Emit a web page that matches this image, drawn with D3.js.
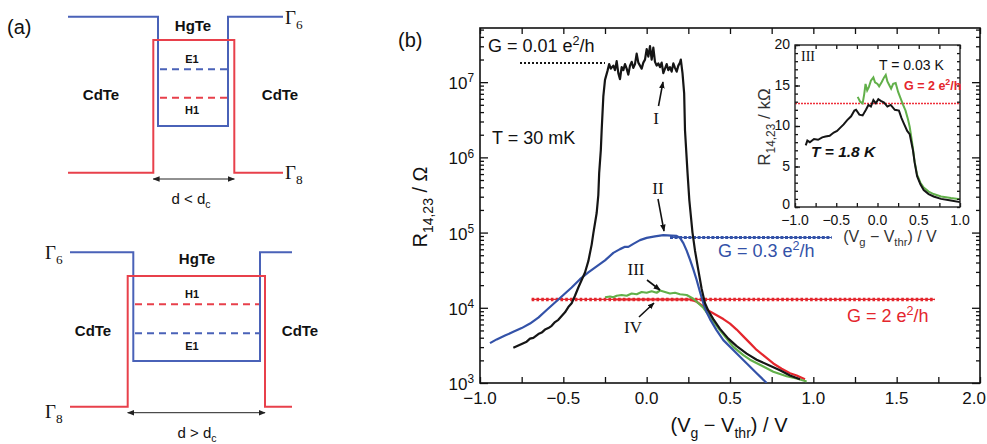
<!DOCTYPE html>
<html>
<head>
<meta charset="utf-8">
<script src="https://cdn.jsdelivr.net/npm/d3@7"></script>
<style>
  body { margin: 0; background: #fff; }
  svg { display: block; }
  text { font-family: "Liberation Sans", Arial, Helvetica, sans-serif; fill: #111; }
  .serif { font-family: "Liberation Serif", "Times New Roman", serif; }
</style>
</head>
<body>
<svg id="fig" width="987" height="444"></svg>
<script>
// ---------------- data ----------------
// main panel: gate voltage (V) and log10 of R14,23 (Ω)
const curveI = [
  [-0.80,3.47],[-0.77,3.50],[-0.74,3.53],[-0.72,3.55],[-0.70,3.59],[-0.68,3.60],[-0.65,3.65],[-0.63,3.67],
  [-0.61,3.71],[-0.59,3.73],[-0.57,3.76],[-0.55,3.81],[-0.53,3.84],[-0.51,3.89],[-0.49,3.94],[-0.47,4.01],
  [-0.45,4.06],[-0.43,4.16],[-0.41,4.27],[-0.39,4.37],[-0.37,4.47],[-0.35,4.62],[-0.33,4.84],[-0.32,4.99],
  [-0.30,5.26],[-0.29,5.50],[-0.285,5.79],[-0.275,6.10],[-0.27,6.36],[-0.26,6.81],[-0.25,7.03],
  [-0.235,7.15],[-0.225,7.24],[-0.215,7.18],[-0.20,7.22],[-0.19,7.16],[-0.18,7.28],[-0.17,7.12],[-0.16,7.04],
  [-0.15,7.20],[-0.14,7.16],[-0.13,7.24],[-0.12,7.18],[-0.11,7.10],[-0.10,7.22],[-0.09,7.27],[-0.08,7.19],
  [-0.07,7.24],[-0.06,7.38],[-0.05,7.26],[-0.04,7.22],[-0.03,7.18],[-0.02,7.26],[-0.01,7.30],[0.00,7.44],
  [0.01,7.34],[0.02,7.48],[0.03,7.30],[0.04,7.46],[0.05,7.27],[0.06,7.22],[0.07,7.25],[0.08,7.20],
  [0.09,7.26],[0.10,7.12],[0.11,7.18],[0.12,7.24],[0.13,7.16],[0.14,7.20],[0.15,7.14],[0.16,7.25],
  [0.17,7.19],[0.18,7.14],[0.19,7.22],[0.20,7.26],[0.205,7.30],[0.215,7.12],[0.225,6.85],[0.23,6.36],
  [0.245,5.80],[0.256,5.43],[0.275,5.00],[0.29,4.76],[0.31,4.50],[0.33,4.25],[0.35,4.06],[0.37,3.96],
  [0.40,3.85],[0.44,3.72],[0.49,3.59],[0.54,3.49],[0.60,3.39],[0.66,3.31],[0.73,3.24],[0.80,3.17],
  [0.86,3.10],[0.92,3.05]
];
const curveII = [
  [-0.94,3.53],[-0.90,3.58],[-0.85,3.63],[-0.80,3.68],[-0.75,3.73],[-0.70,3.79],[-0.65,3.87],[-0.60,3.97],
  [-0.55,4.07],[-0.50,4.17],[-0.45,4.27],[-0.40,4.38],[-0.35,4.47],[-0.30,4.55],[-0.25,4.63],[-0.20,4.73],
  [-0.16,4.78],[-0.13,4.81],[-0.11,4.81],[-0.08,4.85],[-0.04,4.90],[0.00,4.93],[0.05,4.95],[0.10,4.965],
  [0.15,4.96],[0.18,4.955],[0.20,4.93],[0.22,4.86],[0.24,4.76],[0.26,4.64],[0.28,4.51],[0.30,4.37],
  [0.32,4.21],[0.34,4.06],[0.36,3.94],[0.38,3.85],[0.42,3.70],[0.46,3.57],[0.51,3.46],[0.56,3.35],
  [0.61,3.24],[0.66,3.13],[0.72,3.00]
];
const curveIII = [
  [-0.25,4.14],[-0.22,4.15],[-0.20,4.14],[-0.18,4.16],[-0.15,4.17],[-0.12,4.16],[-0.09,4.19],[-0.06,4.18],
  [-0.03,4.21],[0.00,4.20],[0.03,4.22],[0.06,4.20],[0.08,4.23],[0.11,4.21],[0.14,4.19],[0.17,4.20],
  [0.20,4.18],[0.24,4.17],[0.28,4.12],[0.31,4.06],[0.34,4.00],[0.38,3.88],[0.44,3.70],[0.52,3.48],
  [0.58,3.37],[0.62,3.31],[0.70,3.22],[0.76,3.15],[0.84,3.09],[0.90,3.06],[0.96,3.02]
];
const curveIV = [
  [-0.20,4.11],[-0.10,4.11],[0.00,4.11],[0.10,4.11],[0.20,4.11],[0.26,4.11],[0.30,4.08],[0.34,4.02],
  [0.38,3.95],[0.42,3.90],[0.46,3.85],[0.50,3.79],[0.54,3.71],[0.58,3.62],[0.62,3.53],[0.66,3.44],
  [0.71,3.35],[0.76,3.26],[0.81,3.19],[0.86,3.13],[0.90,3.10],[0.95,3.05]
];

// quantised resistance levels (Ω) with their conductance labels
const levelG = ["0.01", "0.3", "2"];
const levelR = [1.8e7, 86000, 12900];
const levelFrom = [-0.76, 0.14, -0.69];
const levelTo = [-0.25, 1.11, 1.73];

// inset: gate voltage (V) and R14,23 (kΩ) for trace III
const insetHot = [
  [-0.87,7.6],[-0.85,8.2],[-0.82,8.0],[-0.77,8.4],[-0.72,8.3],[-0.67,8.6],[-0.63,8.7],[-0.58,8.8],
  [-0.53,9.2],[-0.49,9.4],[-0.45,9.8],[-0.41,10.2],[-0.37,10.7],[-0.32,11.2],[-0.28,11.9],[-0.26,12.0],
  [-0.22,11.4],[-0.18,11.3],[-0.14,12.0],[-0.11,12.6],[-0.08,12.4],[-0.05,13.2],[-0.02,12.8],[0.01,13.3],
  [0.04,13.1],[0.08,12.9],[0.12,12.4],[0.16,12.6],[0.21,12.0],[0.26,11.9],[0.29,11.0],[0.32,10.3],
  [0.36,9.4],[0.39,9.0],[0.41,8.0],[0.43,7.0],[0.45,5.5],[0.48,3.8],[0.52,2.8],[0.56,2.1],
  [0.62,1.6],[0.68,1.3],[0.77,1.0],[0.89,0.8],[1.00,0.6]
];
const insetCold = [
  [-0.24,13.6],[-0.21,13.0],[-0.18,12.8],[-0.16,14.0],[-0.145,15.2],[-0.125,14.4],[-0.105,14.8],[-0.08,15.6],
  [-0.05,16.0],[-0.03,15.4],[0.00,15.2],[0.02,14.9],[0.05,15.4],[0.08,16.0],[0.10,16.3],[0.12,15.5],
  [0.145,15.0],[0.165,14.6],[0.19,15.2],[0.22,15.3],[0.25,14.2],[0.28,13.4],[0.31,12.6],[0.34,11.9],
  [0.37,10.8],[0.39,9.9],[0.41,8.6],[0.43,7.2],[0.45,5.6],[0.48,4.0],[0.52,3.0],[0.56,2.4],
  [0.62,1.9],[0.68,1.6],[0.77,1.3],[0.89,1.1],[1.00,0.95]
];
const insetLevel = 12.9;

// tick labels
const xTicks = [-1.0, -0.5, 0.0, 0.5, 1.0, 1.5, 2.0];
const yDecades = [3, 4, 5, 6, 7];
const insetXTicks = [-1.0, -0.5, 0.0, 0.5, 1.0];
const insetYTicks = [0, 5, 10, 15, 20];

// ---------------- drawing ----------------
const svg = d3.select("#fig");
const W = 987;
const col = { black: "#151515", blue: "#3352a8", green: "#62b04a", red: "#e4262d",
              aBlue: "#4a62b8", aRed: "#e8404b" };
const fmt = v => (v < 0 ? "\u2212" : "") + Math.abs(v).toFixed(1);

// text with sub/superscripts
function rich(sel, x, y, parts, size, attrs = {}) {
  const t = sel.append("text").attr("x", x).attr("y", y).attr("font-size", size);
  Object.entries(attrs).forEach(([k, v]) => t.attr(k, v));
  let shift = 0;
  parts.forEach(p => {
    const part = typeof p === "string" ? { t: p } : p;
    const target = part.sup ? -size * 0.4 : part.sub ? size * 0.28 : 0;
    const s = t.append("tspan").text(part.t).attr("dy", target - shift);
    if (part.sup || part.sub) s.attr("font-size", size * 0.7);
    shift = target;
  });
  return t;
}

function arrowHead(id, color) {
  svg.select("defs").append("marker").attr("id", id)
    .attr("viewBox", "0 0 10 10").attr("refX", 9).attr("refY", 5)
    .attr("markerWidth", 7).attr("markerHeight", 7).attr("orient", "auto-start-reverse")
    .attr("markerUnits", "userSpaceOnUse")
    .append("path").attr("d", "M0,1 L10,5 L0,9 Z").attr("fill", color);
}
svg.append("defs");
arrowHead("ah", "#111");
arrowHead("ahSmall", "#222");

// ===== panel (a): band diagrams =====
const pa = svg.append("g");
pa.append("text").attr("x", 7).attr("y", 34).attr("font-size", 20).text("(a)");

function well(g, cfg) {
  const line = d3.line();
  g.append("path").attr("d", line(cfg.blue)).attr("fill", "none").attr("stroke", col.aBlue).attr("stroke-width", 2);
  g.append("path").attr("d", line(cfg.red)).attr("fill", "none").attr("stroke", col.aRed).attr("stroke-width", 2);
  cfg.levels.forEach(l => {
    g.append("line").attr("x1", cfg.lx[0]).attr("x2", cfg.lx[1]).attr("y1", l.y).attr("y2", l.y)
      .attr("stroke", l.c).attr("stroke-width", 2).attr("stroke-dasharray", "7,5");
    g.append("text").attr("x", cfg.lc).attr("y", l.ty).attr("text-anchor", "middle")
      .attr("font-size", 11).attr("font-weight", "bold").text(l.name);
  });
  g.append("text").attr("x", cfg.hg[0]).attr("y", cfg.hg[1]).attr("text-anchor", "middle")
    .attr("font-size", 15).attr("font-weight", "bold").text("HgTe");
  cfg.cd.forEach(c => g.append("text").attr("x", c[0]).attr("y", c[1]).attr("text-anchor", "middle")
    .attr("font-size", 15).attr("font-weight", "bold").text("CdTe"));
  g.append("line").attr("x1", cfg.arrow[0]).attr("x2", cfg.arrow[1]).attr("y1", cfg.arrow[2]).attr("y2", cfg.arrow[2])
    .attr("stroke", "#222").attr("stroke-width", 1)
    .attr("marker-start", "url(#ahSmall)").attr("marker-end", "url(#ahSmall)");
  rich(g, cfg.d[0], cfg.d[1], ["d " + cfg.d[2] + " d", { t: "c", sub: true }], 15, { "text-anchor": "middle" });
  cfg.gam.forEach(gm => rich(g, gm[0], gm[1], [{ t: "\u0393" }, { t: gm[2], sub: true }], 19, { class: "serif" }));
}

well(pa, {
  blue: [[68,16.7],[158,16.7],[158,126],[228,126],[228,16.7],[283,16.7]],
  red: [[68,172.7],[153.3,172.7],[153.3,40],[234.3,40],[234.3,172.7],[283,172.7]],
  lx: [160, 228], lc: 192,
  levels: [{ y: 69.3, c: col.aBlue, name: "E1", ty: 63 }, { y: 97.7, c: col.aRed, name: "H1", ty: 114 }],
  hg: [193, 31], cd: [[101, 100], [280, 100]],
  arrow: [153.3, 234.3, 179], d: [191, 204, "<"],
  gam: [[285, 24, "6"], [285, 179, "8"]]
});
well(pa, {
  blue: [[70,252.3],[133.3,252.3],[133.3,361],[260,361],[260,252.3],[292,252.3]],
  red: [[70,406.7],[127.7,406.7],[127.7,276],[265,276],[265,406.7],[292,406.7]],
  lx: [135, 259], lc: 192,
  levels: [{ y: 304.3, c: col.aRed, name: "H1", ty: 298 }, { y: 333.3, c: col.aBlue, name: "E1", ty: 350 }],
  hg: [197, 264], cd: [[93, 336], [300, 336]],
  arrow: [127.7, 265, 412.7], d: [197, 438, ">"],
  gam: [[45, 259, "6"], [45, 418, "8"]]
});

// ===== panel (b): main plot =====
const x = d3.scaleLinear().domain([-1, 2]).range([480, 980]);
const y = d3.scaleLog().domain([1e3, 5.25e7]).range([383, 28]);
const pb = svg.append("g");
pb.append("text").attr("x", 398).attr("y", 47).attr("font-size", 20).text("(b)");

svg.select("defs").append("clipPath").attr("id", "mainClip")
  .append("rect").attr("x", 480).attr("y", 28).attr("width", 500).attr("height", 355);

// axes with inward ticks
const xMinor = d3.range(-1, 2.001, 0.25);
const yAll = [];
yDecades.forEach(d => d3.range(1, 10).forEach(m => { const v = m * 10 ** d; if (v <= 5.25e7) yAll.push(v); }));
const yMajor = yAll.filter(v => Math.abs(Math.log10(v) % 1) < 1e-9);
const yMinorV = yAll.filter(v => !yMajor.includes(v));

function styleAxis(g) { g.select(".domain").remove(); g.selectAll("line").attr("stroke", "#111").attr("stroke-width", 1.3); g.selectAll("text").remove(); }
pb.append("g").attr("transform", "translate(0,383)").call(d3.axisBottom(x).tickValues(xMinor).tickSize(-6)).call(styleAxis);
pb.append("g").attr("transform", "translate(0,28)").call(d3.axisTop(x).tickValues(xMinor).tickSize(-6)).call(styleAxis);
[[d3.axisLeft, 480], [d3.axisRight, 980]].forEach(([ax, px]) => {
  pb.append("g").attr("transform", `translate(${px},0)`).call(ax(y).tickValues(yMajor).tickSize(-8)).call(styleAxis);
  pb.append("g").attr("transform", `translate(${px},0)`).call(ax(y).tickValues(yMinorV).tickSize(-4)).call(styleAxis);
});
pb.append("rect").attr("x", 480).attr("y", 28).attr("width", 500).attr("height", 355)
  .attr("fill", "none").attr("stroke", "#111").attr("stroke-width", 1.6);

// x tick labels; the last one is kept inside the page edge
xTicks.forEach(v => {
  const t = pb.append("text").attr("x", x(v)).attr("y", 404).attr("text-anchor", "middle")
    .attr("font-size", 17).text(fmt(v));
  const bb = t.node().getBBox();
  if (bb.x + bb.width > W - 1) t.attr("text-anchor", "end").attr("x", W - 1);
});
yDecades.forEach(d => rich(pb, 474, y(10 ** d) + 7, ["10", { t: String(d), sup: true }], 17, { "text-anchor": "end" }));

rich(pb, 0, 0, ["R", { t: "14,23", sub: true }, " / \u03a9"], 20,
  { "text-anchor": "middle", transform: "translate(427,207) rotate(-90)" });
rich(pb, 729, 432, ["(V", { t: "g", sub: true }, " \u2212 V", { t: "thr", sub: true }, ") / V"], 20, { "text-anchor": "middle" });

// quantised levels
const plot = pb.append("g").attr("clip-path", "url(#mainClip)");
const levelStyle = [
  { c: col.black, w: 2, dash: "2,2" },
  { c: col.blue, w: 3, dash: "3,1.6" },
  { c: col.red, w: 3.6, dash: "2.6,2.2" }
];
levelR.forEach((r, i) => {
  const s = levelStyle[i];
  if (i > 0) plot.append("line").attr("x1", x(levelFrom[i])).attr("x2", x(levelTo[i])).attr("y1", y(r)).attr("y2", y(r))
    .attr("stroke", s.c).attr("stroke-width", 1.2);
  plot.append("line").attr("x1", x(levelFrom[i])).attr("x2", x(levelTo[i])).attr("y1", y(r)).attr("y2", y(r))
    .attr("stroke", s.c).attr("stroke-width", s.w).attr("stroke-dasharray", s.dash);
});

// traces
const line = d3.line().x(d => x(d[0])).y(d => y(10 ** d[1]));
[[curveIV, col.red], [curveIII, col.green], [curveII, col.blue], [curveI, col.black]].forEach(([c, color]) =>
  plot.append("path").attr("d", line(c)).attr("fill", "none").attr("stroke", color)
    .attr("stroke-width", 2.2).attr("stroke-linejoin", "round"));

// annotations
rich(pb, 488, 52, ["G = ", levelG[0], " e", { t: "2", sup: true }, "/h"], 18);
pb.append("text").attr("x", 492).attr("y", 144).attr("font-size", 18).text("T = 30 mK");
rich(pb, 718, 257, ["G = ", levelG[1], " e", { t: "2", sup: true }, "/h"], 18).selectAll("tspan").attr("fill", col.blue);
rich(pb, 847, 322, ["G = ", levelG[2], " e", { t: "2", sup: true }, "/h"], 18).selectAll("tspan").attr("fill", col.red);

const tags = [
  { t: "I", x: 656, y: 124, a: [658.5, 106, 663, 82] },
  { t: "II", x: 658, y: 194, a: [658, 199, 664, 231] },
  { t: "III", x: 636, y: 275, a: [647, 280, 660, 290] },
  { t: "IV", x: 633, y: 333, a: [639, 317, 654, 303] }
];
tags.forEach(tg => {
  pb.append("text").attr("class", "serif").attr("x", tg.x).attr("y", tg.y).attr("text-anchor", "middle")
    .attr("font-size", 17).text(tg.t);
  pb.append("line").attr("x1", tg.a[0]).attr("y1", tg.a[1]).attr("x2", tg.a[2]).attr("y2", tg.a[3])
    .attr("stroke", "#111").attr("stroke-width", 1.6).attr("marker-end", "url(#ah)");
});

// ===== inset =====
const xi = d3.scaleLinear().domain([-1, 1]).range([795, 960]);
const yi = d3.scaleLinear().domain([0, 20]).range([207, 45]);
const ins = svg.append("g");
ins.append("rect").attr("x", 795).attr("y", 45).attr("width", 165).attr("height", 162).attr("fill", "#fff");
ins.append("line").attr("x1", xi(-1)).attr("x2", xi(1)).attr("y1", Math.round(yi(insetLevel)) + 0.5).attr("y2", Math.round(yi(insetLevel)) + 0.5)
  .attr("stroke", "#ef2f3a").attr("stroke-width", 1.3).attr("stroke-dasharray", "2,1");
const iline = d3.line().x(d => xi(d[0])).y(d => yi(d[1]));
ins.append("path").attr("d", iline(insetCold)).attr("fill", "none").attr("stroke", col.green).attr("stroke-width", 2);
ins.append("path").attr("d", iline(insetHot)).attr("fill", "none").attr("stroke", col.black).attr("stroke-width", 2);

ins.append("g").attr("transform", "translate(0,207)").call(d3.axisBottom(xi).tickValues(d3.range(-1, 1.001, 0.25)).tickSize(-4)).call(styleAxis);
ins.append("g").attr("transform", "translate(0,45)").call(d3.axisTop(xi).tickValues(d3.range(-1, 1.001, 0.25)).tickSize(-4)).call(styleAxis);
ins.append("g").attr("transform", "translate(795,0)").call(d3.axisLeft(yi).tickValues(d3.range(0, 20.1, 1)).tickSize(-3)).call(styleAxis);
ins.append("g").attr("transform", "translate(795,0)").call(d3.axisLeft(yi).tickValues(insetYTicks).tickSize(-5)).call(styleAxis);
ins.append("g").attr("transform", "translate(960,0)").call(d3.axisRight(yi).tickValues(d3.range(0, 20.1, 1)).tickSize(-3)).call(styleAxis);
ins.append("rect").attr("x", 795).attr("y", 45).attr("width", 165).attr("height", 162)
  .attr("fill", "none").attr("stroke", "#222").attr("stroke-width", 1.4);

insetXTicks.forEach(v => ins.append("text").attr("x", xi(v)).attr("y", 225).attr("text-anchor", "middle")
  .attr("font-size", 14).attr("fill", "#333").text(fmt(v)));
insetYTicks.forEach(v => ins.append("text").attr("x", 790).attr("y", yi(v) + (v === 0 ? 2 : 4)).attr("text-anchor", "end")
  .attr("font-size", 14).attr("fill", "#333").text(v));
rich(ins, 0, 0, ["R", { t: "14,23", sub: true }, " / k\u03a9"], 17,
  { "text-anchor": "middle", transform: "translate(770,127) rotate(-90)" }).selectAll("tspan").attr("fill", "#333");
rich(ins, 890, 242, ["(V", { t: "g", sub: true }, " \u2212 V", { t: "thr", sub: true }, ") / V"], 16, { "text-anchor": "middle" }).selectAll("tspan").attr("fill", "#333");

ins.append("text").attr("class", "serif").attr("x", 801).attr("y", 61).attr("font-size", 14).attr("fill", "#333").text("III");
ins.append("text").attr("x", 879).attr("y", 70).attr("font-size", 14).attr("fill", "#333").text("T = 0.03 K");
rich(ins, 904, 90, ["G = 2 e", { t: "2", sup: true }, "/h"], 12.5, { "font-weight": "bold" }).selectAll("tspan").attr("fill", col.red);
ins.append("text").attr("x", 811).attr("y", 157).attr("font-size", 15.5).attr("font-weight", "bold")
  .attr("font-style", "italic").attr("fill", "#222").text("T = 1.8 K");
</script>
</body>
</html>
